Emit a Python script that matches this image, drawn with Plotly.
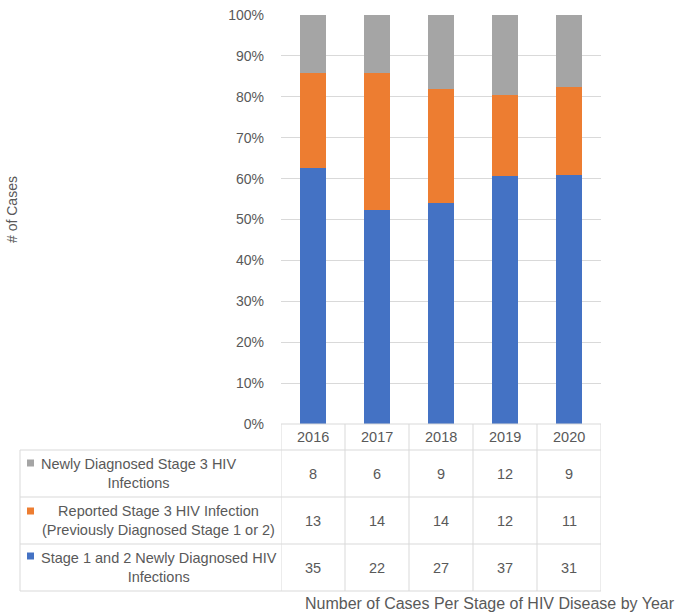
import plotly.graph_objects as go

W, H = 676, 613

years = ["2016", "2017", "2018", "2019", "2020"]
stage12_new = [35, 22, 27, 37, 31]
stage3_reported = [13, 14, 14, 12, 11]
stage3_new = [8, 6, 9, 12, 9]

series_names = [
    "Stage 1 and 2 Newly Diagnosed HIV<br>Infections",
    "Reported Stage 3 HIV Infection<br>(Previously Diagnosed Stage 1 or 2)",
    "Newly Diagnosed Stage 3 HIV<br>Infections",
]
colors = ["#4472C4", "#ED7D31", "#A5A5A5"]
series_values = [stage12_new, stage3_reported, stage3_new]

x_title = "Number of Cases Per Stage of HIV Disease by Year"
y_title = "# of Cases"

FONT = "Liberation Sans"
TXT = "#595959"
GRID = "#D9D9D9"


def px(x):
    return x / W


def py(y):
    return 1 - y / H


fig = go.Figure()
for name, vals, col in zip(series_names, series_values, colors):
    fig.add_trace(go.Bar(x=years, y=vals, name=name, marker=dict(color=col, line=dict(width=0))))

plot_left, plot_right = 281, 601
plot_top, plot_bottom = 15, 424

shapes = []
ann = []

row_bounds = [450, 497, 544, 591]
header_top = 424
n = len(years)

line = dict(color=GRID, width=1)
shapes.append(dict(type="line", xref="x", yref="paper", x0=-0.5, x1=n - 0.5,
                   y0=py(header_top), y1=py(header_top), line=line))
for yb in row_bounds:
    shapes.append(dict(type="line", xref="paper", yref="paper", x0=px(20), x1=px(plot_right),
                       y0=py(yb), y1=py(yb), line=line))
shapes.append(dict(type="line", xref="paper", yref="paper", x0=px(20), x1=px(20),
                   y0=py(row_bounds[0]), y1=py(row_bounds[-1]), line=line))
for i in range(n + 1):
    shapes.append(dict(type="line", xref="x", yref="paper", x0=i - 0.5, x1=i - 0.5,
                       y0=py(header_top), y1=py(row_bounds[-1]), line=line))

for i, yr in enumerate(years):
    ann.append(dict(x=i, xref="x", y=py(437), yref="paper", text=yr, showarrow=False,
                    font=dict(family=FONT, size=14.5, color=TXT), xanchor="center", yanchor="middle"))

table_order = [2, 1, 0]
label_centers = [138, 158, 159]
marker_y = [463, 511, 556]
for r, si in enumerate(table_order):
    y0, y1 = row_bounds[r], row_bounds[r + 1]
    yc = (y0 + y1) / 2
    ann.append(dict(x=px(label_centers[r]), xref="paper", y=py(yc), yref="paper",
                    text=series_names[si], showarrow=False, align="center",
                    font=dict(family=FONT, size=14.5, color=TXT), xanchor="center", yanchor="middle"))
    shapes.append(dict(type="rect", xref="paper", yref="paper", x0=px(27), x1=px(34),
                       y0=py(marker_y[r] - 3.5), y1=py(marker_y[r] + 3.5),
                       fillcolor=colors[si], line=dict(width=0)))
    for i, v in enumerate(series_values[si]):
        ann.append(dict(x=i, xref="x", y=py(yc), yref="paper", text=str(v), showarrow=False,
                        font=dict(family=FONT, size=14.5, color=TXT), xanchor="center", yanchor="middle"))

ann.append(dict(x=px(303), xref="paper", y=py(603), yref="paper", text=x_title, showarrow=False,
                font=dict(family=FONT, size=16, color=TXT), xanchor="left", yanchor="middle"))
ann.append(dict(x=px(12), xref="paper", y=py(210), yref="paper", text=y_title, showarrow=False,
                textangle=-90, font=dict(family=FONT, size=14, color=TXT), xanchor="center", yanchor="middle"))

fig.update_layout(
    width=W, height=H,
    margin=dict(l=0, r=0, t=0, b=0),
    paper_bgcolor="white", plot_bgcolor="white",
    barmode="stack", barnorm="percent", bargap=0.6,
    showlegend=False,
    font=dict(family=FONT, size=13, color=TXT),
    xaxis=dict(type="category", range=[-0.5, n - 0.5], domain=[px(plot_left), px(plot_right)],
               showticklabels=False, showgrid=False, showline=False, zeroline=False, ticks=""),
    yaxis=dict(domain=[py(plot_bottom), py(plot_top)], range=[0, 100], dtick=10, ticksuffix="%",
               showgrid=True, gridcolor=GRID, gridwidth=1, zeroline=False, showline=False,
               ticks="", ticklabelstandoff=16, automargin=False,
               tickfont=dict(family=FONT, size=14, color=TXT)),
    shapes=shapes,
    annotations=ann,
)

fig.write_html("out.html")
